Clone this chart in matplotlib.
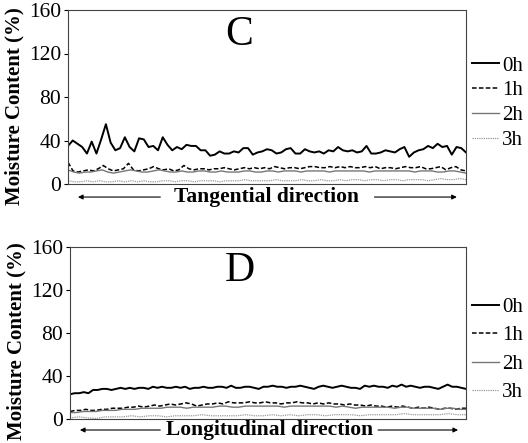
import numpy as np
import matplotlib
matplotlib.use("Agg")
import matplotlib.pyplot as plt
from matplotlib.lines import Line2D

plt.rcParams['font.family'] = ['Liberation Serif', 'DejaVu Serif']

# Panel C - tangential direction, moisture content (%)
tang_0h = [35, 40, 37, 34, 28, 39, 28, 41, 55, 38, 31, 33, 43, 34, 30, 42, 41, 34, 35, 31,
           43, 36, 31, 34, 32, 36, 35, 35, 31, 31, 26, 27, 30, 28, 28, 30, 29, 33, 33, 27,
           29, 30, 32, 31, 28, 29, 32, 33, 28, 28, 32, 30, 29, 30, 28, 31, 30, 34, 31, 30,
           31, 29, 30, 35, 28, 28, 29, 31, 30, 29, 32, 34, 25, 29, 31, 32, 35, 33, 37, 34,
           35, 27, 34, 33, 29]
tang_1h = [20, 12, 11, 12, 13, 12, 14, 17, 14, 12, 13, 14, 19, 13, 12, 13, 14, 16, 14, 13,
           14, 12, 13, 17, 14, 13, 14, 14, 13, 14, 14, 15, 14, 13, 14, 15, 14, 15, 14, 15,
           14, 16, 15, 14, 15, 15, 14, 15, 16, 16, 15, 15, 16, 15, 16, 15, 16, 15, 15, 16,
           15, 16, 14, 15, 15, 14, 15, 16, 15, 15, 16, 14, 14, 15, 16, 13, 15, 16, 13, 12]
tang_2h = [13, 11, 10, 11, 11, 12, 13, 11, 10, 11, 12, 13, 12, 11, 11, 12, 13, 12, 11, 11,
           12, 11, 11, 12, 12, 11, 11, 12, 11, 11, 11, 12, 12, 11, 11, 12, 12, 11, 12, 12,
           12, 11, 12, 12, 12, 12, 11, 12, 12, 12, 12, 12, 12, 11, 12, 12, 12, 12, 12, 12,
           12, 11, 12, 12, 12, 11, 11, 12, 12, 11, 10]
tang_3h = [3, 2, 2, 3, 2, 3, 2, 2, 3, 2, 3, 2, 3, 2, 2, 3, 3, 2, 3, 3, 2, 3, 3, 3, 2, 3, 3,
           3, 4, 3, 3, 3, 3, 4, 3, 3, 3, 4, 3, 3, 4, 3, 3, 4, 3, 4, 4, 3, 4, 4, 3, 4, 4, 3,
           4, 4, 4, 3, 4, 5, 4, 4, 5, 4]

# Panel D - longitudinal direction
long_0h = [23, 24, 24, 25, 24, 27, 27, 28, 28, 27, 28, 29, 28, 29, 28, 29, 29, 28, 30, 29,
           30, 29, 29, 30, 29, 30, 28, 29, 29, 30, 29, 29, 30, 30, 29, 31, 29, 29, 30, 30,
           29, 28, 30, 30, 31, 30, 30, 29, 30, 30, 31, 30, 29, 28, 30, 31, 30, 29, 30, 31,
           30, 29, 29, 28, 31, 30, 31, 30, 30, 29, 31, 30, 32, 30, 31, 30, 29, 30, 30, 29,
           28, 30, 32, 30, 30, 29, 28]
long_1h = [7, 8, 8, 9, 8, 8, 9, 9, 10, 10, 10, 11, 11, 12, 11, 12, 13, 12, 13, 14, 13, 14,
           15, 14, 12, 13, 14, 14, 15, 14, 16, 15, 15, 15, 16, 15, 15, 16, 15, 15, 14, 15,
           15, 16, 15, 15, 14, 15, 14, 15, 14, 14, 13, 14, 13, 13, 12, 13, 12, 12, 11, 12,
           11, 12, 11, 10, 11, 10, 11, 10, 9, 10, 10, 9, 10, 10]
long_2h = [6, 6, 7, 7, 7, 8, 8, 8, 9, 9, 9, 10, 10, 10, 10, 11, 11, 11, 10, 11, 11, 11, 11,
           12, 12, 11, 11, 12, 12, 12, 12, 12, 12, 11, 12, 12, 12, 12, 12, 12, 12, 11, 12,
           11, 10, 11, 11, 11, 11, 11, 10, 11, 11, 10, 10, 10, 10, 9, 10, 10, 9, 9]
long_3h = [1, 2, 1, 0.5, 2, 2, 2, 3, 2, 3, 3, 2, 3, 3, 3, 4, 3, 3, 3, 3, 4, 3, 3, 4, 3, 4,
           3, 4, 4, 3, 4, 4, 4, 3, 4, 4, 4, 4, 5, 4, 4, 4, 4, 5, 4, 4]

labels = ['0h', '1h', '2h', '3h']
yticks = [0, 40, 80, 120, 160]

styles = [dict(color='black', lw=1.4, ls='-'),
          dict(color='black', lw=1.1, ls=(0, (3, 1.5))),
          dict(color='#777777', lw=1.0, ls='-'),
          dict(color='#999999', lw=0.9, ls=(0, (1, 0.8)))]

W, H = 528, 443
fig = plt.figure(figsize=(W / 100, H / 100), dpi=100)


def panel(rect, series, letter, xlabel, arrows, leg_y, leg_sp):
    ax = fig.add_axes(rect)
    for s, st in zip(series, styles):
        x = np.linspace(0, 100, len(s))
        ax.plot(x, s, **st)
    ax.set_xlim(0, 100)
    ax.set_ylim(0, 160)
    ax.set_yticks(yticks)
    ax.set_xticks([])
    ax.tick_params(axis='y', labelsize=15.5, length=3, width=0.8, pad=2)
    for sp in ax.spines.values():
        sp.set_linewidth(0.8)
        sp.set_color('#444444')
    ax.text(0.43, 0.86, letter, transform=ax.transAxes, ha='center', va='center',
            fontsize=30)
    ax.text(-0.135, 0.45, 'Moisture Content (%)', transform=ax.transAxes,
            rotation=90, ha='center', va='center', fontsize=15, fontweight='bold')
    ya, xl_c = arrows[4], arrows[5]
    ax.text(xl_c, ya, xlabel, transform=ax.transAxes, ha='center', va='center',
            fontsize=15.5, fontweight='bold')
    for x0, x1 in [(arrows[0], arrows[1]), (arrows[2], arrows[3])]:
        ax.annotate('', xy=(x1, ya), xytext=(x0, ya), xycoords='axes fraction',
                    arrowprops=dict(arrowstyle='-|>', lw=0.8, color='black',
                                    mutation_scale=7, shrinkA=0, shrinkB=0))
    handles = [Line2D([], [], **st) for st in styles]
    ax.legend(handles, labels, loc='upper left', bbox_to_anchor=(1.015, leg_y),
              frameon=False, fontsize=15, handlelength=1.3, handletextpad=0.15,
              labelspacing=leg_sp, borderaxespad=0, borderpad=0)
    return ax


panel([68 / W, (H - 184) / H, 398 / W, 174 / H],
      [tang_0h, tang_1h, tang_2h, tang_3h], 'C', 'Tangential direction',
      (0.232, 0.025, 0.77, 0.977, -0.075, 0.5), 0.735, 0.25)
panel([70 / W, (H - 419) / H, 396 / W, 172 / H],
      [long_0h, long_1h, long_2h, long_3h], 'D', 'Longitudinal direction',
      (0.228, 0.025, 0.778, 0.98, -0.064, 0.505), 0.708, 0.43)

fig.savefig('out.png', dpi=100)
